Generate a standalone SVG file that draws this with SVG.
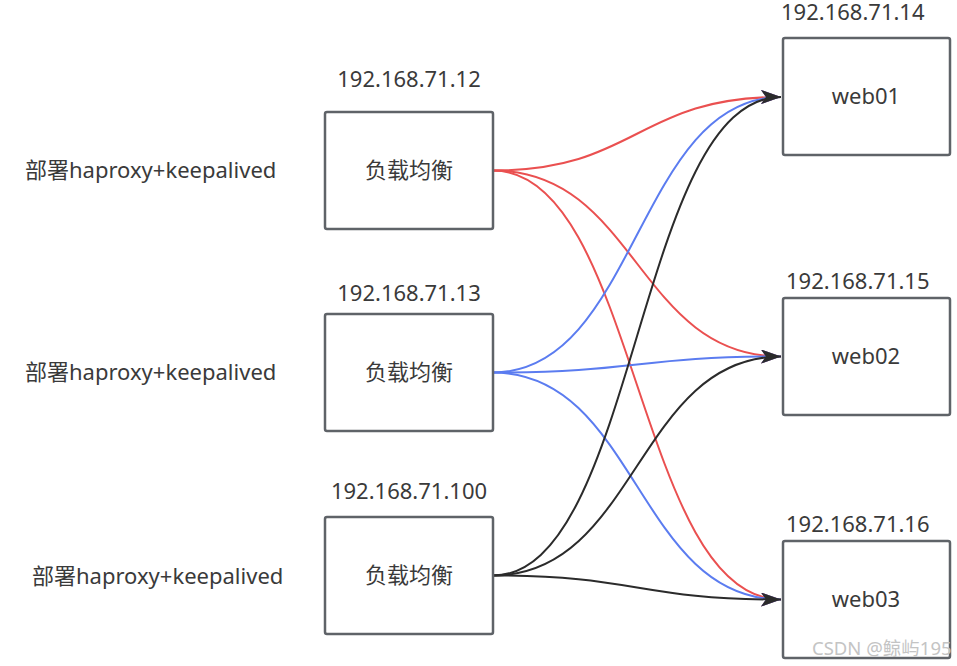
<svg xmlns="http://www.w3.org/2000/svg" width="957" height="666" viewBox="0 0 957 666">
<defs>
<style>
.box{fill:#fff;stroke:#5f6368;stroke-width:2.5}
.t{font-family:"Noto Sans","Noto Sans CJK SC",sans-serif;font-size:22px;fill:#3a3a3a}
.c{text-anchor:middle}
.e{fill:none;stroke-width:2}
.r{stroke:#ea5050}
.b{stroke:#5b7cf0}
.k{stroke:#2b2b2b}
</style>
<marker id="ar" markerUnits="userSpaceOnUse" viewBox="0 0 20 14" refX="20" refY="7" markerWidth="20" markerHeight="14" orient="auto"><path d="M0,0 L20,7 L0,14 L5,7 z" fill="#ea5050"/></marker>
<marker id="ab" markerUnits="userSpaceOnUse" viewBox="0 0 20 14" refX="20" refY="7" markerWidth="20" markerHeight="14" orient="auto"><path d="M0,0 L20,7 L0,14 L5,7 z" fill="#5b7cf0"/></marker>
<marker id="ak" markerUnits="userSpaceOnUse" viewBox="0 0 20 14" refX="20" refY="7" markerWidth="20" markerHeight="14" orient="auto"><path d="M0,0 L20,7 L0,14 L5,7 z" fill="#2b2b2b"/></marker>
</defs>
<rect width="957" height="666" fill="#fff"/>
<g id="connectors">
<path class="e r" d="M493,170.5 C637,170.5 637,97 781,97" marker-end="url(#ar)"/>
<path class="e r" d="M493,170.5 C637,170.5 637,356.5 781,356.5" marker-end="url(#ar)"/>
<path class="e r" d="M493,170.5 C637,170.5 637,599.5 781,599.5" marker-end="url(#ar)"/>
<path class="e b" d="M493,372.5 C637,372.5 637,97 781,97" marker-end="url(#ab)"/>
<path class="e b" d="M493,372.5 C637,372.5 637,356.5 781,356.5" marker-end="url(#ab)"/>
<path class="e b" d="M493,372.5 C637,372.5 637,599.5 781,599.5" marker-end="url(#ab)"/>
<path class="e k" d="M493,575.5 C637,575.5 637,97 781,97" marker-end="url(#ak)"/>
<path class="e k" d="M493,575.5 C637,575.5 637,356.5 781,356.5" marker-end="url(#ak)"/>
<path class="e k" d="M493,575.5 C637,575.5 637,599.5 781,599.5" marker-end="url(#ak)"/>
</g>
<g id="lb1">
<rect class="box" x="325" y="112" width="168" height="117" rx="2"/>
<text class="t c" x="409" y="178">负载均衡</text>
<text class="t c" x="409" y="87">192.168.71.12</text>
<text class="t" x="25" y="178">部署haproxy+keepalived</text>
</g>
<g id="lb2">
<rect class="box" x="325" y="314" width="168" height="117" rx="2"/>
<text class="t c" x="409" y="380">负载均衡</text>
<text class="t c" x="409" y="301">192.168.71.13</text>
<text class="t" x="25" y="380">部署haproxy+keepalived</text>
</g>
<g id="lb3">
<rect class="box" x="325" y="517" width="168" height="117" rx="2"/>
<text class="t c" x="409" y="583">负载均衡</text>
<text class="t c" x="409" y="499">192.168.71.100</text>
<text class="t" x="32" y="584">部署haproxy+keepalived</text>
</g>
<g id="web01">
<rect class="box" x="783" y="38" width="167" height="117" rx="2"/>
<text class="t c" x="866" y="104">web01</text>
<text class="t" x="781" y="20">192.168.71.14</text>
</g>
<g id="web02">
<rect class="box" x="783" y="298" width="167" height="117" rx="2"/>
<text class="t c" x="866" y="364">web02</text>
<text class="t" x="786" y="289">192.168.71.15</text>
</g>
<g id="web03">
<rect class="box" x="783" y="541" width="167" height="117" rx="2"/>
<text class="t c" x="866" y="607">web03</text>
<text class="t" x="786" y="532">192.168.71.16</text>
</g>
<text x="812" y="655" font-family="'Noto Sans','Noto Sans CJK SC',sans-serif" font-size="18.5" fill="#c4c4c4">CSDN @鲸屿195</text>
</svg>
